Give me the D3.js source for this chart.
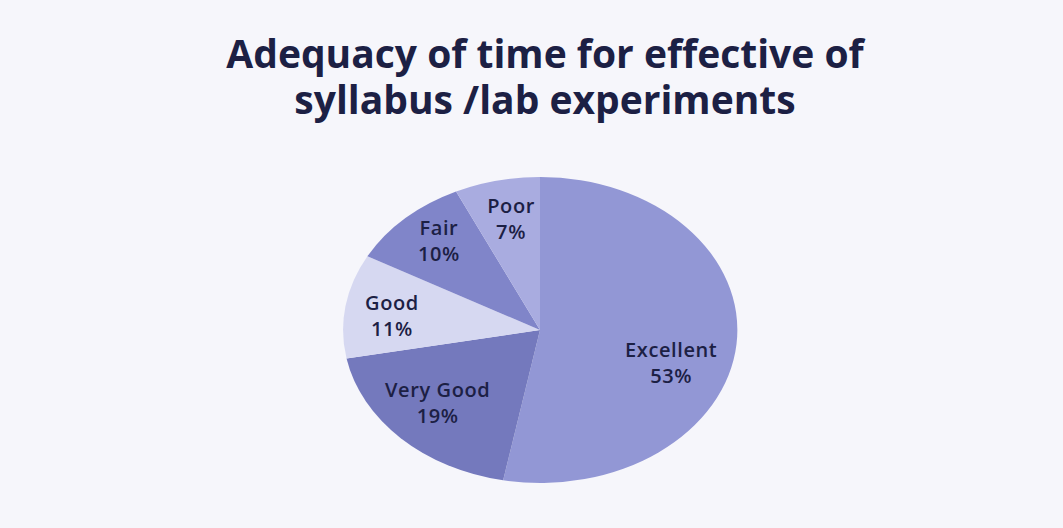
<!DOCTYPE html>
<html>
<head>
<meta charset="utf-8">
<script src="https://cdn.jsdelivr.net/npm/d3@7"></script>
<style>
  html, body { margin: 0; padding: 0; background: #f4f4fa; }
  svg { display: block; }
</style>
</head>
<body>
<svg id="chart" width="1063" height="528"></svg>
<script>
const categories = ["Excellent", "Very Good", "Good", "Fair", "Poor"];
const values = [53, 19, 11, 10, 7];
const sliceColors = ["#9297d5", "#7479bd", "#d6d8f1", "#8085c9", "#a9ace0"];
const titleLines = ["Adequacy of time for effective of", "syllabus /lab experiments"];

const svg = d3.select("#chart");
const width = +svg.attr("width");

// background with a faint bluish tint like the slide
svg.append("rect").attr("width", width).attr("height", 528).attr("fill", "#f6f6fb");

// two-line title in one text element
svg.append("text")
  .attr("class", "title")
  .attr("text-anchor", "middle")
  .attr("font-family", "'Open Sans', 'Noto Sans', sans-serif")
  .attr("font-weight", "bold")
  .attr("font-size", 39)
  .attr("fill", "#1c2044")
  .selectAll("tspan")
  .data(titleLines)
  .join("tspan")
  .attr("x", 545)
  .attr("y", (d, i) => 68 + i * 46)
  .text(d => d);

// pie is slightly tilted -> ellipse
const cx = 540, cy = 330, rx = 197, ry = 153;
const data = categories.map((c, i) => ({ cat: c, value: values[i] }));
const pie = d3.pie().value(d => d.value).sort(null);
const arcs = pie(data);
const arc = d3.arc().innerRadius(0).outerRadius(1);
const color = d3.scaleOrdinal().domain(categories).range(sliceColors);

const g = svg.append("g").attr("transform", `translate(${cx},${cy})`);
g.append("g")
  .attr("transform", `scale(${rx},${ry})`)
  .selectAll("path")
  .data(arcs)
  .join("path")
  .attr("d", arc)
  .attr("fill", d => color(d.data.cat));

// label placement
const labelArc = d3.arc().innerRadius(0.72).outerRadius(0.72);
const nudge = { "Excellent": [-10, 22], "Good": [-8, 2], "Fair": [-4, -10], "Poor": [2, -4], "Very Good": [-2, -6] };

const labels = g.selectAll("g.lbl")
  .data(arcs)
  .join("g")
  .attr("class", "lbl")
  .attr("transform", d => {
    const [x, y] = labelArc.centroid(d);
    const n = nudge[d.data.cat];
    return `translate(${x * rx + n[0]},${y * ry + n[1]})`;
  });

labels.append("text")
  .attr("text-anchor", "middle")
  .attr("font-family", "'Open Sans', 'Noto Sans', sans-serif")
  .attr("font-size", 20)
  .attr("font-weight", 600)
  .attr("letter-spacing", 0.6)
  .attr("fill", "#1c2044")
  .selectAll("tspan")
  .data(d => [d.data.cat, d.data.value + "%"])
  .join("tspan")
  .attr("x", 0)
  .attr("y", (d, i) => i === 0 ? -5 : 21)
  .text(d => d);
</script>
</body>
</html>
